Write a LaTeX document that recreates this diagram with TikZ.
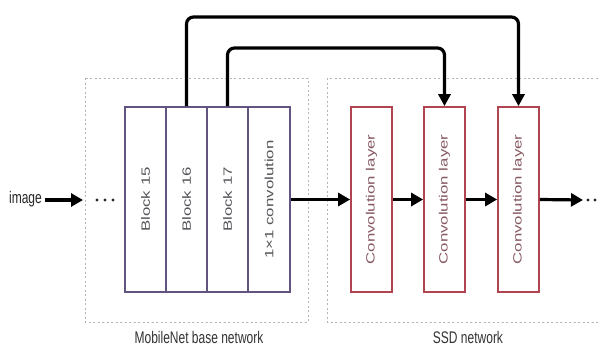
\documentclass[tikz,border=0pt]{standalone}
\usepackage{fontspec}
\usepackage{graphicx}
\setmainfont{Liberation Sans}
\usetikzlibrary{arrows.meta}
\definecolor{blockline}{RGB}{98,84,128}
\definecolor{convline}{RGB}{176,68,80}
\definecolor{blocktext}{RGB}{85,85,90}
\definecolor{convtext}{RGB}{135,90,98}
\definecolor{dotgray}{RGB}{180,180,180}
\newcommand\vtext[1]{\scalebox{1}[1.4]{\rotatebox{90}{#1}}}
\newcommand\htext[1]{\scalebox{1}[1.4]{#1}}
\tikzset{
  blockbox/.style={draw=blockline, line width=1.7pt, minimum width=41pt, minimum height=185pt,
    inner sep=0pt, text=blocktext, font=\fontsize{12}{14}\selectfont},
  convbox/.style={draw=convline, line width=1.7pt, minimum width=41pt, minimum height=185pt,
    inner sep=0pt, text=convtext, font=\fontsize{12}{14}\selectfont},
  flow/.style={line width=3.2pt, -{Triangle[length=12pt,width=13pt]}},
  skipline/.style={line width=3.2pt, rounded corners=7pt, -{Triangle[length=12pt,width=12pt]}},
  groupbox/.style={draw=dotgray, line width=1pt, dash pattern=on 2pt off 2.5pt},
  grouplabel/.style={text=black!80, font=\fontsize{12}{14}\selectfont, inner sep=0pt},
}
\begin{document}
\begin{tikzpicture}[x=1pt,y=-1pt]
\useasboundingbox (0,0) rectangle (598,349);
\clip (0,0) rectangle (598,349);
\fill[white] (0,0) rectangle (598,349);
% group boxes
\draw[groupbox] (85,78) rectangle (308,322);
\draw[groupbox] (327,78) rectangle (612,322);
\node[grouplabel] (lblA) at (199,337) {\htext{MobileNet base network}};
\node[grouplabel] (lblB) at (468,337) {\htext{SSD network}};
% MobileNet blocks
\node[blockbox] (b15) at (145.5,199.5) {\vtext{Block 15}};
\node[blockbox] (b16) at (186.5,199.5) {\vtext{Block 16}};
\node[blockbox] (b17) at (227.5,199.5) {\vtext{Block 17}};
\node[blockbox, minimum width=42pt] (b1x1) at (269,199.5) {\vtext{1×1 convolution}};
% SSD convolution layers
\node[convbox] (c1) at (371.5,199.5) {\vtext{Convolution layer}};
\node[convbox] (c2) at (444.5,199.5) {\vtext{Convolution layer}};
\node[convbox] (c3) at (518.5,199.5) {\vtext{Convolution layer}};
% input
\node[text=black!85, font=\fontsize{12}{14}\selectfont, inner sep=0pt, anchor=east] (img) at (42,199) {\htext{image}};
\coordinate (inEnd) at (83,200);
\coordinate (outEnd) at (583,200);
\foreach \x in {97,105,113} \fill[black!85] (\x,200) circle (1.6pt);
\foreach \x in {588,595,602} \fill[black!85] (\x,200) circle (1.6pt);
% flow arrows
\draw[flow] (img.east) ++(3,1) -- (inEnd);
\draw[flow] (b1x1.east) -- (c1.west);
\draw[flow] (c1.east) -- (c2.west);
\draw[flow] (c2.east) -- (c3.west);
\draw[flow] (c3.east) -- (outEnd);
% skip connections
\draw[skipline] (b16.north) -- (b16.north |- 0,17) -| (c3.north);
\draw[skipline] (b17.north) -- (b17.north |- 0,48) -| (c2.north);
\end{tikzpicture}
\end{document}
